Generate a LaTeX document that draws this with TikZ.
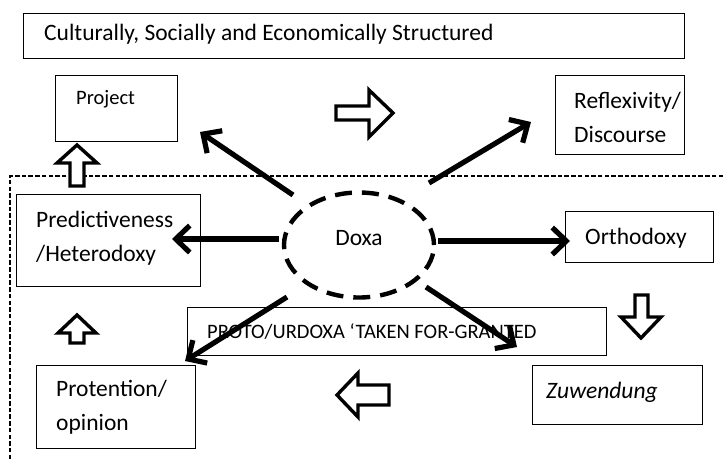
\documentclass[tikz,border=0pt]{standalone}
\usepackage{fontspec}
\setmainfont{Carlito}
\usetikzlibrary{arrows.meta,shapes.geometric}
\tikzset{
  box/.style={draw=black, line width=1.2pt, inner sep=0pt, anchor=north west},
  lbl/.style={inner sep=0pt, anchor=west, align=left, font=\fontsize{23.5}{34}\selectfont},
  small/.style={font=\fontsize{20.5}{28}\selectfont},
  bigarrow/.style={line width=5.2pt, -{Straight Barb[length=14pt, width=27pt]}},
  hollow/.style={draw=black, line width=3.4pt, fill=white, line join=miter},
  frame/.style={line width=1.3pt, dash pattern=on 4.5pt off 2.2pt},
  doxastyle/.style={ellipse, draw=black, line width=4.4pt, dash pattern=on 17pt off 10pt, minimum width=150pt, minimum height=105pt, inner sep=0pt}
}
\begin{document}
\begin{tikzpicture}[x=1pt,y=-1pt]
\useasboundingbox[fill=white] (0,0) rectangle (723,459);

% dashed frame
\draw[frame] (723,176) -- (10,176) -- (10,459);

% boxes
\node[box, minimum width=661pt, minimum height=45pt] (top) at (23,13) {};
\node[lbl] (toptxt) at (44,34) {Culturally, Socially and Economically Structured};

\node[box, minimum width=122pt, minimum height=66pt] (project) at (55,75) {};
\node[lbl, small] (projecttxt) at (76,99) {Project};

\node[box, minimum width=129pt, minimum height=79pt] (reflex) at (555,75) {};
\node[lbl] (reflextxt) at (574,117) {Reflexivity/\\Discourse};

\node[box, minimum width=184pt, minimum height=92pt] (pred) at (16,194) {};
\node[lbl] (predtxt) at (36,238) {Predictiveness\\/Heterodoxy};

\node[box, minimum width=148pt, minimum height=51pt] (ortho) at (565,211) {};
\node[lbl] (orthotxt) at (585,238) {Orthodoxy};

\node[box, minimum width=419pt, minimum height=48pt] (proto) at (187,307) {};
\node[lbl, small] (prototxt) at (207,332) {PROTO/URDOXA ‘TAKEN FOR-GRANTED};

\node[box, minimum width=159pt, minimum height=83pt] (protention) at (36,365) {};
\node[lbl] (protentiontxt) at (56,407) {Protention/\\opinion};

\node[box, minimum width=170pt, minimum height=59pt] (zuw) at (532,365) {};
\node[lbl] (zuwtxt) at (546,392) {\itshape Zuwendung};

% Doxa
\node[doxastyle] (doxa) at (359,245) {};
\node[lbl, anchor=center] (doxatxt) at (359,238) {Doxa};

% arrow end points
\coordinate (s1) at ([shift={(-66,-50)}]doxa.center);
\coordinate (t1) at (200,132);
\coordinate (s2) at ([shift={(70,-62)}]doxa.center);
\coordinate (t2) at (531,122);
\coordinate (s3) at ([shift={(-80,-6)}]doxa.center);
\coordinate (t3) at (172,239);
\coordinate (s4) at ([shift={(79,-4)}]doxa.center);
\coordinate (t4) at (570,241);
\coordinate (s5) at ([shift={(-72,52)}]doxa.center);
\coordinate (t5) at (185,361);
\coordinate (s6) at ([shift={(67,42)}]doxa.center);
\coordinate (t6) at (517,347);

\draw[bigarrow] (s1) -- (t1);
\draw[bigarrow] (s2) -- (t2);
\draw[bigarrow] (s3) -- (t3);
\draw[bigarrow] (s4) -- (t4);
\draw[bigarrow] (s5) -- (t5);
\draw[bigarrow] (s6) -- (t6);

% hollow block arrows
\draw[hollow] (336,106) -- (369,106) -- (369,90) -- (393,113) -- (369,137) -- (369,120) -- (336,120) -- cycle;
\draw[hollow] (389,385) -- (358,385) -- (358,373) -- (337,395) -- (358,417) -- (358,405) -- (389,405) -- cycle;
\draw[hollow] (70,186) -- (70,163) -- (57,163) -- (77,145) -- (97,163) -- (84,163) -- (84,186) -- cycle;
\draw[hollow] (70,343) -- (70,333) -- (58,333) -- (77,315) -- (96,333) -- (84,333) -- (84,343) -- cycle;
\draw[hollow] (635,295) -- (648,295) -- (648,317) -- (661,317) -- (641,338) -- (621,317) -- (635,317) -- cycle;
\end{tikzpicture}
\end{document}
